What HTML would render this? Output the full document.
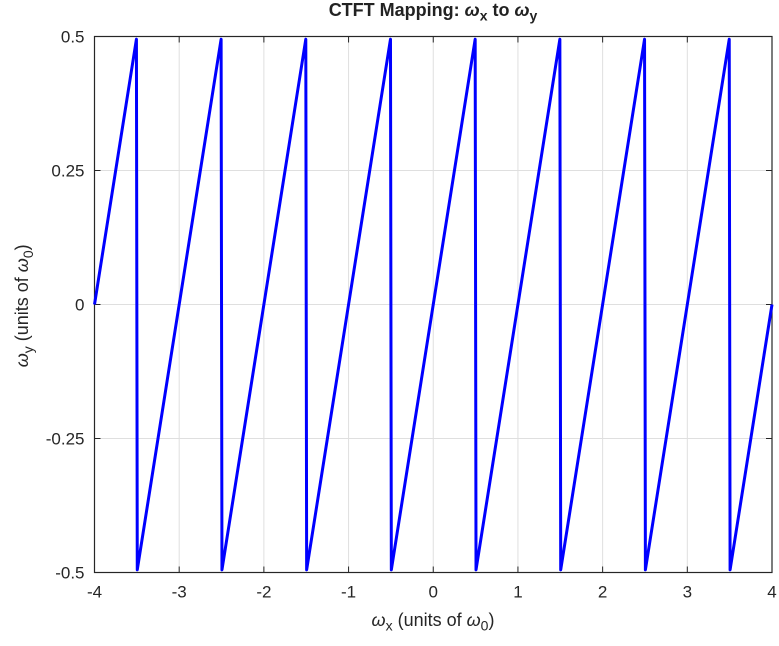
<!DOCTYPE html>
<html><head><meta charset="utf-8"><style>
body{margin:0;background:#fff;}
svg text{font-family:"Liberation Sans",sans-serif;}
</style></head><body>
<svg id="c" width="779" height="641" xmlns="http://www.w3.org/2000/svg"></svg>
<script>
const xTicks=[-4,-3,-2,-1,0,1,2,3,4];
const yTicks=[-0.5,-0.25,0,0.25,0.5];
const yTickLabels=["-0.5","-0.25","0","0.25","0.5"];
const seriesX=[-4,-3.505,-3.495,-2.505,-2.495,-1.505,-1.495,-0.505,-0.495,0.495,0.505,1.495,1.505,2.495,2.505,3.495,3.505,4];
const seriesY=[0,0.495,-0.495,0.495,-0.495,0.495,-0.495,0.495,-0.495,0.495,-0.495,0.495,-0.495,0.495,-0.495,0.495,-0.495,0];
const L=94.5,R=772,T=36.5,B=572.5;
const sx=v=>L+(v+4)/8*(R-L);
const sy=v=>B-(v+0.5)*(B-T);
const svg=document.getElementById('c');
const NS='http://www.w3.org/2000/svg';
function mk(tag,attrs,name){const e=document.createElementNS(NS,tag);for(const k in attrs)e.setAttribute(k,attrs[k]);


svg.appendChild(e);return e;}
xTicks.forEach(v=>{const x=sx(v);
mk('line',{x1:x,x2:x,y1:T,y2:B,stroke:'#dfdfdf','stroke-width':1},'x-grid-line');
mk('line',{x1:x,x2:x,y1:B,y2:B-6,stroke:'#262626'},'x-tick');
mk('line',{x1:x,x2:x,y1:T,y2:T+6,stroke:'#262626'},'x-tick-top');
const t=mk('text',{x:x,y:B+25,'text-anchor':'middle','font-size':17,fill:'#262626'},'x-tick-label');t.textContent=String(v);});
yTicks.forEach((v,i)=>{const y=sy(v);
mk('line',{x1:L,x2:R,y1:y,y2:y,stroke:'#dfdfdf','stroke-width':1},'y-grid-line');
mk('line',{x1:L,x2:L+6,y1:y,y2:y,stroke:'#262626'},'y-tick');
mk('line',{x1:R,x2:R-6,y1:y,y2:y,stroke:'#262626'},'y-tick-right');
const t=mk('text',{x:L-10,y:y+6,'text-anchor':'end','font-size':17,fill:'#262626'},'y-tick-label');t.textContent=yTickLabels[i];});
mk('rect',{x:L,y:T,width:R-L,height:B-T,fill:'none',stroke:'#262626','stroke-width':1.2},'axes-box');
mk('polyline',{points:seriesX.map((x,i)=>sx(x)+','+sy(seriesY[i])).join(' '),fill:'none',stroke:'#0000ff','stroke-width':3,'stroke-linejoin':'round'},'sawtooth-line');
</script>
<div style="position:absolute;left:94px;top:0px;width:678px;text-align:center;font:bold 18px 'Liberation Sans',sans-serif;color:#222">CTFT Mapping: <i>ω</i><sub style="font-size:14px">x</sub> to <i>ω</i><sub style="font-size:14px">y</sub></div>
<div style="position:absolute;left:0;top:610px;width:866px;text-align:center;font:18px 'Liberation Sans',sans-serif;color:#262626"><i>ω</i><sub style="font-size:14px">x</sub> (units of <i>ω</i><sub style="font-size:14px">0</sub>)</div>
<div style="position:absolute;left:-76px;top:294px;width:200px;text-align:center;transform:rotate(-90deg);font:18px 'Liberation Sans',sans-serif;color:#262626"><i>ω</i><sub style="font-size:14px">y</sub> (units of <i>ω</i><sub style="font-size:14px">0</sub>)</div>
</body></html>
